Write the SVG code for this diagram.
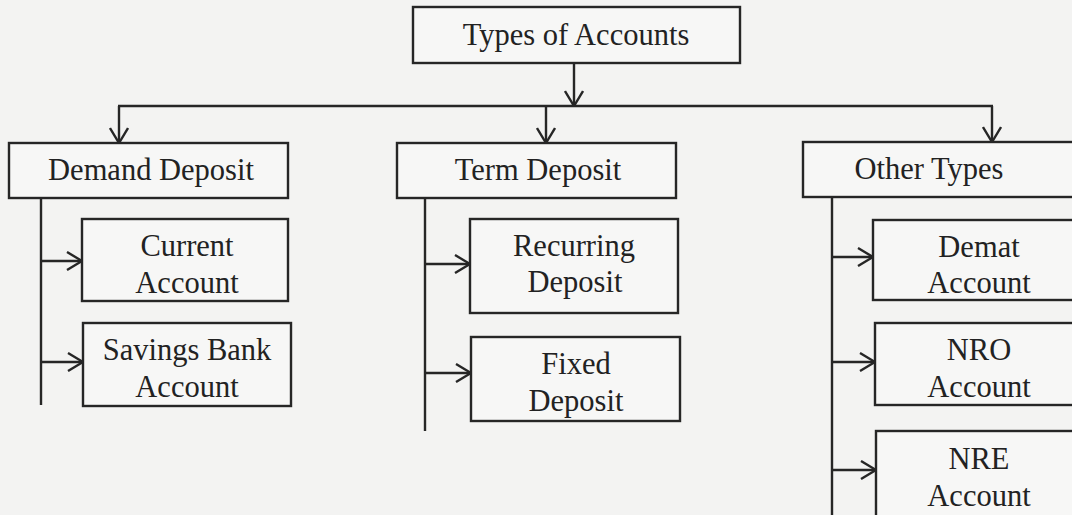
<svg xmlns="http://www.w3.org/2000/svg" width="1072" height="515" viewBox="0 0 1072 515">
<style>
.bg{fill:#f3f3f2}
.box{fill:#f7f7f6;stroke:#262626;stroke-width:2.4}
.t{font-family:"Liberation Serif","Times New Roman",serif;font-size:30.5px;fill:#222222;text-anchor:middle}
.c{fill:none;stroke:#262626;stroke-width:2.4}
</style>
<defs>
<marker id="arr" viewBox="0 0 17 20" refX="16" refY="10" markerWidth="17" markerHeight="20" markerUnits="userSpaceOnUse" orient="auto">
<path d="M1,1 L16,10 L1,19" fill="none" stroke="#262626" stroke-width="2.4"/>
</marker>
</defs>
<rect class="bg" x="0" y="0" width="1072" height="515"/>

<g id="connectors">
<line class="c" x1="574" y1="63" x2="574" y2="106" marker-end="url(#arr)"/>
<line class="c" x1="118" y1="106" x2="993" y2="106"/>
<line class="c" x1="119" y1="106" x2="119" y2="143" marker-end="url(#arr)"/>
<line class="c" x1="546" y1="106" x2="546" y2="143" marker-end="url(#arr)"/>
<line class="c" x1="992" y1="106" x2="992" y2="142" marker-end="url(#arr)"/>

<line class="c" x1="41" y1="198" x2="41" y2="405"/>
<line class="c" x1="41" y1="261" x2="82" y2="261" marker-end="url(#arr)"/>
<line class="c" x1="41" y1="362" x2="83" y2="362" marker-end="url(#arr)"/>

<line class="c" x1="425" y1="198" x2="425" y2="431"/>
<line class="c" x1="425" y1="264" x2="470" y2="264" marker-end="url(#arr)"/>
<line class="c" x1="425" y1="373" x2="471" y2="373" marker-end="url(#arr)"/>

<line class="c" x1="832" y1="197" x2="832" y2="515"/>
<line class="c" x1="832" y1="257" x2="873" y2="257" marker-end="url(#arr)"/>
<line class="c" x1="832" y1="362" x2="875" y2="362" marker-end="url(#arr)"/>
<line class="c" x1="832" y1="470" x2="876" y2="470" marker-end="url(#arr)"/>
</g>

<g id="types-of-accounts">
<rect class="box" x="413" y="7" width="327" height="56"/>
<text class="t" x="576" y="45">Types of Accounts</text>
</g>

<g id="demand-deposit">
<rect class="box" x="9" y="143" width="279" height="55"/>
<text class="t" x="151" y="180">Demand Deposit</text>
</g>

<g id="term-deposit">
<rect class="box" x="397" y="143" width="279" height="55"/>
<text class="t" x="538" y="180">Term Deposit</text>
</g>

<g id="other-types">
<rect class="box" x="803" y="142" width="290" height="55"/>
<text class="t" x="929" y="179">Other Types</text>
</g>

<g id="current-account">
<rect class="box" x="82" y="219" width="206" height="82"/>
<text class="t" x="187" y="256">Current</text>
<text class="t" x="187" y="293">Account</text>
</g>

<g id="savings-bank-account">
<rect class="box" x="83" y="323" width="208" height="83"/>
<text class="t" x="187" y="360">Savings Bank</text>
<text class="t" x="187" y="397">Account</text>
</g>

<g id="recurring-deposit">
<rect class="box" x="470" y="219" width="208" height="94"/>
<text class="t" x="574" y="256">Recurring</text>
<text class="t" x="575" y="292">Deposit</text>
</g>

<g id="fixed-deposit">
<rect class="box" x="471" y="337" width="209" height="84"/>
<text class="t" x="576" y="374">Fixed</text>
<text class="t" x="576" y="411">Deposit</text>
</g>

<g id="demat-account">
<rect class="box" x="873" y="220" width="220" height="80"/>
<text class="t" x="979" y="257">Demat</text>
<text class="t" x="979" y="293">Account</text>
</g>

<g id="nro-account">
<rect class="box" x="875" y="323" width="218" height="82"/>
<text class="t" x="979" y="360">NRO</text>
<text class="t" x="979" y="397">Account</text>
</g>

<g id="nre-account">
<rect class="box" x="876" y="431" width="217" height="100"/>
<text class="t" x="979" y="469">NRE</text>
<text class="t" x="979" y="506">Account</text>
</g>
</svg>
